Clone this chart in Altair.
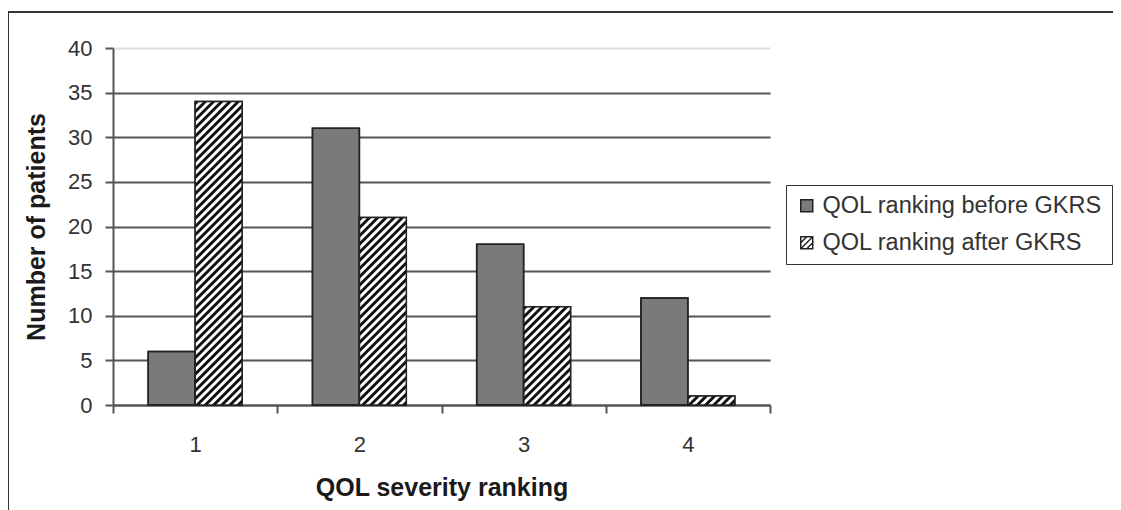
import altair as alt
import pandas as pd
from urllib.parse import quote

# ---- data ----
categories = ["1", "2", "3", "4"]
before = [6, 31, 18, 12]
after = [34, 21, 11, 1]
series_names = ["QOL ranking before GKRS", "QOL ranking after GKRS"]
y_ticks = [0, 5, 10, 15, 20, 25, 30, 35, 40]

rows = []
for c, b, a in zip(categories, before, after):
    rows.append({"cat": c, "series": series_names[0], "value": b})
    rows.append({"cat": c, "series": series_names[1], "value": a})
df = pd.DataFrame(rows)

# ---- styles ----
GRAY = "#7a7a7a"
EDGE = "#222222"
LINE = "#555555"
FONT = "Liberation Sans"

hatch_svg = (
    "<svg xmlns='http://www.w3.org/2000/svg' width='100%' height='100%'>"
    "<defs><pattern id='h' width='5.8' height='5.8' patternUnits='userSpaceOnUse' "
    "patternTransform='rotate(45)'>"
    "<rect x='0' y='0' width='2.9' height='5.8' fill='#111'/></pattern></defs>"
    "<rect width='100%' height='100%' fill='#fff'/>"
    "<rect width='100%' height='100%' fill='url(#h)'/></svg>"
)
hatch_url = "data:image/svg+xml;charset=utf-8," + quote(hatch_svg)
hatch_symbol = "M-1,-1H1V1H-1Z M-1,0L0,-1 M-1,1L1,-1 M0,1L1,0"

x_enc = alt.X(
    "cat:N",
    sort=categories,
    scale=alt.Scale(paddingInner=0, paddingOuter=0),
    axis=alt.Axis(
        title="QOL severity ranking",
        tickBand="extent",
        labelAngle=0,
        labelFontSize=22,
        labelColor="#333333",
        labelPadding=21,
        tickSize=8,
        tickColor=LINE,
        tickWidth=2,
        domainColor=LINE,
        domainWidth=2,
        grid=False,
        titleFontSize=25,
        titleFontWeight="bold",
        titleColor="#1a1a1a",
        titleY=90,
        titleBaseline="alphabetic",
    ),
)
xoff_enc = alt.XOffset(
    "series:N",
    sort=series_names,
    scale=alt.Scale(domain=series_names, paddingInner=0, paddingOuter=0.75),
)
y_enc = alt.Y(
    "value:Q",
    scale=alt.Scale(domain=[0, 40]),
    axis=alt.Axis(
        values=y_ticks,
        title="Number of patients",
        titleFontSize=25,
        titleFontWeight="bold",
        titleColor="#1a1a1a",
        titleX=-69,
        titleY=178.5,
        titleBaseline="alphabetic",
        labelFontSize=22,
        labelColor="#333333",
        labelPadding=13,
        tickSize=8,
        tickColor=LINE,
        tickWidth=2,
        domainColor=LINE,
        domainWidth=2,
        grid=True,
        gridWidth=2,
        gridColor={"condition": {"test": "datum.value === 40", "value": "#dddddd"}, "value": LINE},
    ),
)

base = alt.Chart(df)

bars = base.mark_bar(stroke=EDGE, strokeWidth=1.5).encode(
    x=x_enc,
    xOffset=xoff_enc,
    y=y_enc,
    fill=alt.condition(alt.datum.series == series_names[0], alt.value(GRAY), alt.value("white")),
)

hatch = base.transform_filter(alt.datum.series == series_names[1]).mark_image(aspect=False).encode(
    x=x_enc,
    xOffset=xoff_enc,
    y=y_enc,
    y2=alt.datum(0),
    url=alt.value(hatch_url),
)

outlines = base.mark_bar(fillOpacity=0, stroke=EDGE, strokeWidth=1.5).encode(
    x=x_enc,
    xOffset=xoff_enc,
    y=y_enc,
)

legend_layer = base.transform_filter("false").mark_point(filled=True, opacity=1, strokeWidth=1.5).encode(
    x=x_enc,
    y=y_enc,
    fill=alt.Fill(
        "series:N",
        scale=alt.Scale(domain=series_names, range=[GRAY, "white"]),
        legend=alt.Legend(title=None),
    ),
    shape=alt.Shape(
        "series:N",
        scale=alt.Scale(domain=series_names, range=["square", hatch_symbol]),
        legend=alt.Legend(title=None),
    ),
    stroke=alt.Stroke(
        "series:N",
        scale=alt.Scale(domain=series_names, range=[EDGE, EDGE]),
        legend=alt.Legend(title=None),
    ),
)

frame_df = pd.DataFrame({"k": [0]})
frame_v = alt.Chart(frame_df).mark_rule(color="#333333", strokeWidth=2).encode(
    x=alt.value(-105), y=alt.value(-36), y2=alt.value(462)
)
frame_h = alt.Chart(frame_df).mark_rule(color="#333333", strokeWidth=2).encode(
    x=alt.value(-105), x2=alt.value(1000), y=alt.value(-36)
)

chart = (
    alt.layer(frame_v, frame_h, bars, hatch, outlines, legend_layer)
    .properties(
        width=657,
        height=357,
        autosize=alt.AutoSizeParams(type="none"),
        padding={"left": 105, "top": 40, "right": 343, "bottom": 105},
    )
    .configure(font=FONT)
    .configure_view(stroke=None)
    .configure_legend(
        orient="none",
        legendX=673,
        legendY=137,
        strokeColor="#333333",
        padding=9,
        symbolSize=144,
        symbolStrokeWidth=1.5,
        symbolOpacity=1,
        labelFontSize=23.5,
        labelColor="#333333",
        labelOffset=4,
        rowPadding=12,
        labelLimit=400,
    )
)

chart.save("out.html", embed_options={"renderer": "svg", "actions": False})
